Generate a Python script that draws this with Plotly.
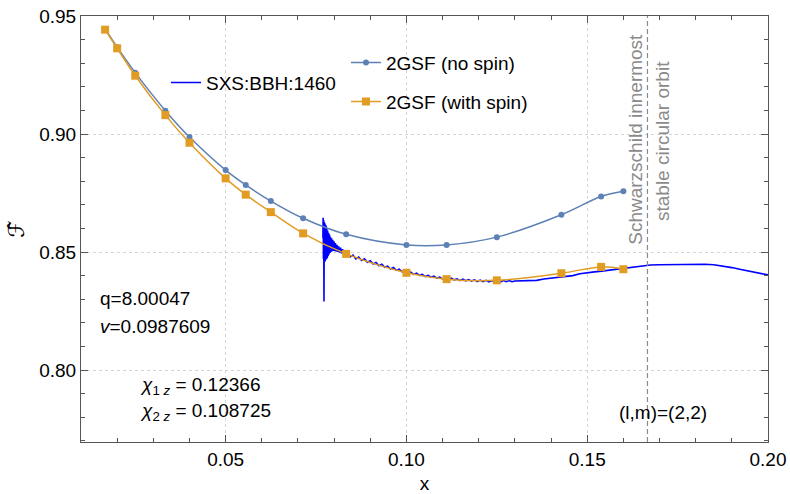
import plotly.graph_objects as go

# ---------------- data ----------------
gsf_x = [0.016667, 0.02, 0.025, 0.033333, 0.04, 0.05, 0.055556, 0.0625,
         0.071429, 0.083333, 0.1, 0.111111, 0.125, 0.142857, 0.153846, 0.16]
gsf_nospin = [0.9445, 0.9368, 0.9260, 0.9099, 0.8987, 0.8847, 0.8784, 0.8716,
              0.8643, 0.8575, 0.8530, 0.8530, 0.8563, 0.8658, 0.8735, 0.8757]
gsf_spin = [0.9442, 0.9363, 0.9247, 0.9080, 0.8963, 0.8812, 0.8743, 0.8669,
            0.8579, 0.8492, 0.8412, 0.8385, 0.8380, 0.8410, 0.8437, 0.8427]

sxs_points = [
    (0.07690, 0.8560), (0.07697, 0.8645), (0.07705, 0.8470), (0.07712, 0.8635),
    (0.07720, 0.8290), (0.07728, 0.8625), (0.07736, 0.8462), (0.07744, 0.8618),
    (0.07752, 0.8460), (0.07761, 0.8614), (0.07770, 0.8462), (0.07780, 0.8608),
    (0.07790, 0.8468), (0.07800, 0.8598), (0.07811, 0.8475), (0.07822, 0.8590),
    (0.07834, 0.8482), (0.07846, 0.8582), (0.07859, 0.8490), (0.07872, 0.8574),
    (0.07886, 0.8496), (0.07900, 0.8565), (0.07915, 0.8500), (0.07930, 0.8558),
    (0.07946, 0.8503), (0.07962, 0.8552), (0.07980, 0.8505), (0.07998, 0.8545),
    (0.08017, 0.8504), (0.08037, 0.8538), (0.08058, 0.8502), (0.08080, 0.8530),
    (0.08103, 0.8500), (0.08127, 0.8524), (0.08152, 0.8497), (0.08178, 0.8518),
    (0.08205, 0.8494), (0.08235, 0.8512), (0.08265, 0.8490), (0.08300, 0.8505),
    (0.0844, 0.8479), (0.0852, 0.8487), (0.0860, 0.8471), (0.0868, 0.8479),
    (0.0876, 0.8464), (0.0884, 0.8471), (0.0892, 0.8457), (0.0900, 0.8463),
    (0.0908, 0.8449), (0.0916, 0.8456), (0.0924, 0.8442), (0.0932, 0.8448),
    (0.0940, 0.8435), (0.0948, 0.8440), (0.0956, 0.8428), (0.0964, 0.8434),
    (0.0972, 0.8422), (0.0980, 0.8427), (0.0988, 0.8416), (0.0996, 0.8421),
    (0.1004, 0.8410), (0.1012, 0.8415), (0.1020, 0.8405), (0.1028, 0.8410),
    (0.1036, 0.8401), (0.1044, 0.8405), (0.1052, 0.8396), (0.1060, 0.8401),
    (0.1068, 0.8393), (0.1076, 0.8398), (0.1084, 0.8389), (0.1092, 0.8394),
    (0.1100, 0.8386), (0.1108, 0.8391), (0.1116, 0.8384), (0.1124, 0.8389),
    (0.1132, 0.8382), (0.1140, 0.8386), (0.1148, 0.8379), (0.1156, 0.8385),
    (0.1164, 0.8378), (0.1172, 0.8383), (0.1180, 0.8377), (0.1188, 0.8382),
    (0.1196, 0.8375), (0.1204, 0.8381), (0.1212, 0.8375), (0.1220, 0.8380),
    (0.1228, 0.8374), (0.1236, 0.8379), (0.1244, 0.8373), (0.1252, 0.8379),
    (0.1260, 0.8373), (0.1268, 0.8379), (0.1276, 0.8374), (0.1284, 0.8379),
    (0.1292, 0.8374), (0.1300, 0.8377),
    (0.132, 0.8378), (0.134, 0.8381), (0.136, 0.8380), (0.138, 0.8386),
    (0.140, 0.8389), (0.142, 0.8393), (0.144, 0.8395), (0.146, 0.8400),
    (0.148, 0.8408), (0.150, 0.8413), (0.152, 0.8416), (0.154, 0.8419),
    (0.156, 0.8423), (0.158, 0.8427), (0.160, 0.8431), (0.1625, 0.8438),
    (0.165, 0.8443), (0.1675, 0.8445), (0.170, 0.8446), (0.1725, 0.8447),
    (0.175, 0.8448), (0.1775, 0.8449), (0.180, 0.8449), (0.1825, 0.8448),
    (0.185, 0.8446), (0.1875, 0.8441), (0.190, 0.8434), (0.1925, 0.8426),
    (0.195, 0.8418), (0.1975, 0.8411), (0.200, 0.8403),
]
sxs_x = [p[0] for p in sxs_points]
sxs_y = [p[1] for p in sxs_points]

x_isco = 0.166667
x_ticks = [0.05, 0.10, 0.15, 0.20]
y_ticks = [0.80, 0.85, 0.90, 0.95]

# ---------------- styles ----------------
FONT = "Liberation Sans, Arial, sans-serif"
FRAME = "#555555"
BLUE = "#5E81B5"
ORANGE = "#E19C24"
GRAY = "#8a8a8a"

fig = go.Figure()
fig.add_trace(go.Scatter(
    x=sxs_x, y=sxs_y, mode="lines", name="SXS:BBH:1460",
    line=dict(color="#0000FF", width=1.6), legend="legend"))
fig.add_trace(go.Scatter(
    x=gsf_x, y=gsf_nospin, mode="lines+markers", name="2GSF (no spin)",
    line=dict(color=BLUE, width=1.5, shape="spline"),
    marker=dict(symbol="circle", size=6, color=BLUE), legend="legend2"))
fig.add_trace(go.Scatter(
    x=gsf_x, y=gsf_spin, mode="lines+markers", name="2GSF (with spin)",
    line=dict(color=ORANGE, width=1.5, shape="spline"),
    marker=dict(symbol="square", size=8, color=ORANGE), legend="legend3"))

fig.add_shape(type="line", x0=x_isco, x1=x_isco, xref="x", yref="paper",
              y0=0, y1=1, line=dict(color=GRAY, width=1.2, dash="5px,3px"))

axis_common = dict(
    automargin=False,
    showline=True, linecolor=FRAME, linewidth=1, mirror="allticks",
    ticks="inside", ticklen=7, tickcolor=FRAME, tickwidth=1,
    showgrid=True, gridcolor="#d4d4d4", griddash="dot", gridwidth=1,
    zeroline=False, tickformat=".2f",
    tickfont=dict(family=FONT, size=19, color="black"),
)

fig.update_xaxes(
    range=[0.01, 0.2], tickvals=x_ticks,
    minor=dict(dtick=0.01, tick0=0, ticks="inside", ticklen=4,
               tickcolor=FRAME, showgrid=False),
    title=dict(text="x", font=dict(family=FONT, size=19, color="black"),
               standoff=14),
    **axis_common)
fig.update_yaxes(
    range=[0.7695, 0.95], tickvals=y_ticks,
    minor=dict(dtick=0.01, tick0=0, ticks="inside", ticklen=4,
               tickcolor=FRAME, showgrid=False),
    title=dict(text="ℱ̂", font=dict(family="DejaVu Serif, DejaVu Sans", size=22,
                                    color="black"),
               standoff=8),
    **axis_common)

leg_common = dict(bgcolor="rgba(0,0,0,0)", borderwidth=0,
                  font=dict(family=FONT, size=19, color="black"),
                  xanchor="left", yanchor="middle", itemwidth=30)
fig.update_layout(
    width=790, height=494,
    margin=dict(l=81, r=22, t=16, b=52, autoexpand=False),
    plot_bgcolor="white", paper_bgcolor="white",
    font=dict(family=FONT, size=19, color="black"),
    showlegend=True,
    legend=dict(x=0.1237, y=0.8434, **leg_common),
    legend2=dict(x=0.3857, y=0.8904, **leg_common),
    legend3=dict(x=0.3857, y=0.7988, **leg_common),
)

ann_font = dict(family=FONT, size=19, color="black")
fig.add_annotation(x=0.0147, y=0.8301, xref="x", yref="y", text="q=8.00047",
                   showarrow=False, xanchor="left", yanchor="middle", font=ann_font)
fig.add_annotation(x=0.0147, y=0.8186, xref="x", yref="y",
                   text="<i>v</i>=0.0987609",
                   showarrow=False, xanchor="left", yanchor="middle", font=ann_font)
fig.add_annotation(x=0.0257, y=0.7932, xref="x", yref="y",
                   text="<i>χ</i><sub>1 <i>z</i></sub> = 0.12366",
                   showarrow=False, xanchor="left", yanchor="middle", font=ann_font)
fig.add_annotation(x=0.0257, y=0.7822, xref="x", yref="y",
                   text="<i>χ</i><sub>2 <i>z</i></sub> = 0.108725",
                   showarrow=False, xanchor="left", yanchor="middle", font=ann_font)
fig.add_annotation(x=0.1583, y=0.7818, xref="x", yref="y", text="(l,m)=(2,2)",
                   showarrow=False, xanchor="left", yanchor="middle", font=ann_font)
fig.add_annotation(x=0.1633, y=0.8977, xref="x", yref="y",
                   text="Schwarzschild innermost", textangle=-90,
                   showarrow=False, xanchor="center", yanchor="middle",
                   font=dict(family=FONT, size=19, color=GRAY))
fig.add_annotation(x=0.1708, y=0.8972, xref="x", yref="y",
                   text="stable circular orbit", textangle=-90,
                   showarrow=False, xanchor="center", yanchor="middle",
                   font=dict(family=FONT, size=19, color=GRAY))

fig.write_html("out.html",
               config={"displayModeBar": False},
               post_script="document.body.style.margin='0';"
                           "document.body.style.overflow='hidden';")
